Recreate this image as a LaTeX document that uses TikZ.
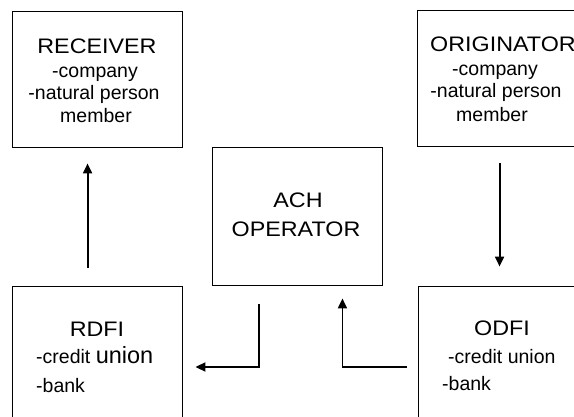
\documentclass[tikz,border=0pt]{standalone}
\usepackage{fontspec}
\setmainfont{Liberation Sans}
\usetikzlibrary{arrows.meta}
\tikzset{
  box/.style={draw=black, line width=0.9pt, rectangle, inner sep=0pt},
  ttl/.style={anchor=base, inner sep=0pt, font=\fontsize{21}{24}\selectfont, xscale=1.11},
  sub/.style={anchor=base, inner sep=0pt, font=\fontsize{19.5}{22}\selectfont},
  subl/.style={anchor=base west, inner sep=0pt, font=\fontsize{19.5}{22}\selectfont},
  arr/.style={line width=1.9pt, -{Triangle[length=10pt,width=9pt]}}
}
\begin{document}
\begin{tikzpicture}[x=1pt,y=-1pt]
\useasboundingbox (0,0) rectangle (574,417);
\clip (0,0) rectangle (574,417);
\fill[white] (0,0) rectangle (574,417);
% boxes
\node[box, minimum width=170pt, minimum height=136pt] (rec) at (97,79) {};
\node[box, minimum width=160pt, minimum height=136pt] (orig) at (497,78) {};
\node[box, minimum width=170pt, minimum height=138pt] (ach) at (297,216) {};
\node[box, minimum width=170pt, minimum height=162pt] (rdfi) at (97,367) {};
\node[box, minimum width=160pt, minimum height=162pt] (odfi) at (498,367) {};
% texts
\node[ttl] (t1) at (97,54) {RECEIVER};
\node[sub] (t2) at (95,78) {-company};
\node[sub] (t3) at (94,100) {-natural person};
\node[sub] (t4) at (96,123) {member};
\node[ttl, anchor=base west] (t5) at (430,52) {ORIGINATOR};
\node[sub] (t6) at (495,76) {-company};
\node[sub] (t7) at (496,98) {-natural person};
\node[sub] (t8) at (492,122) {member};
\node[ttl] (t9) at (298,208) {ACH};
\node[ttl] (t10) at (296,237) {OPERATOR};
\node[ttl] (t11) at (97,337) {RDFI};
\node[subl] (t12) at (36,363) {-credit {\fontsize{23.5}{24}\selectfont union}};
\node[subl] (t13) at (36,392) {-bank};
\node[ttl] (t14) at (502,336) {ODFI};
\node[subl] (t15) at (448,363) {-credit union};
\node[subl] (t16) at (442,390) {-bank};
% connectors
\draw[arr] ([xshift=76pt,yshift=18pt]rdfi.north west) -- ([xshift=76pt,yshift=-16pt]rec.south west);
\draw[arr] ([xshift=83pt,yshift=-17pt]orig.south west) -- ([xshift=82pt,yshift=19pt]odfi.north west);
\draw[arr] ([xshift=47pt,yshift=-19pt]ach.south west) |- ([xshift=13pt]rdfi.east);
\draw[arr] ([xshift=-11pt]odfi.west) -| ([xshift=-40pt,yshift=-13pt]ach.south east);
\end{tikzpicture}
\end{document}
